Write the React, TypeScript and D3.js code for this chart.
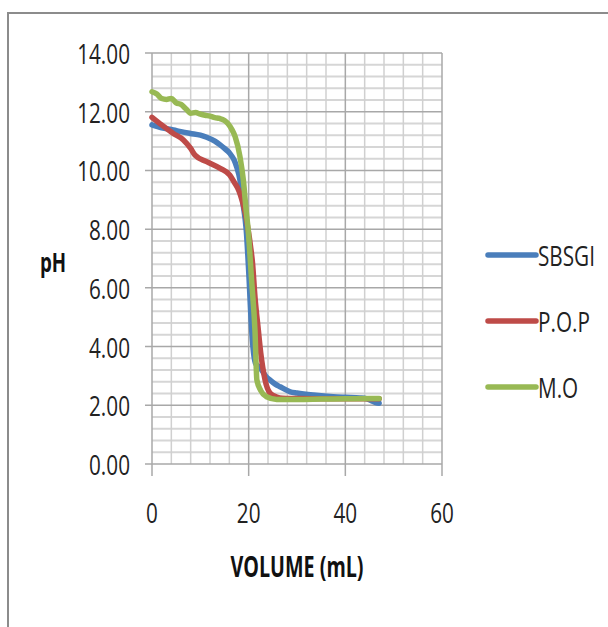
import React from "react";
import * as d3 from "d3";

const sbsgiX = [0, 2, 4.4, 6, 7.9, 10, 11.3, 13, 14.1, 15, 16.1, 17, 17.5, 18.2, 18.8, 19.5, 20.1, 20.5, 21, 21.5, 22, 22.5, 23.5, 24.5, 25.5, 26.5, 28.6, 30, 33.4, 37.5, 40, 43, 44.5, 45.5, 46.3, 47];
const sbsgiY = [11.55, 11.45, 11.38, 11.32, 11.26, 11.2, 11.13, 11.0, 10.87, 10.75, 10.58, 10.35, 10.13, 9.67, 8.9, 7.97, 6.27, 4.9, 3.8, 3.4, 3.33, 3.25, 3.0, 2.85, 2.72, 2.63, 2.46, 2.42, 2.35, 2.29, 2.27, 2.25, 2.22, 2.15, 2.09, 2.07];

const popX = [0, 2, 4.4, 6.5, 8, 8.9, 11.3, 14.1, 16.1, 17, 18, 18.6, 19.3, 19.9, 20.4, 20.8, 21.3, 22, 22.5, 23.4, 24.4, 25.8, 27, 30, 35, 40, 45, 47];
const popY = [11.81, 11.55, 11.26, 11.04, 10.75, 10.52, 10.3, 10.07, 9.84, 9.6, 9.3, 9.0, 8.54, 7.97, 7.4, 6.84, 5.7, 4.56, 3.78, 2.86, 2.42, 2.28, 2.24, 2.23, 2.22, 2.22, 2.22, 2.22];

const moX = [0, 1, 2, 3, 4, 5, 6, 7, 8, 9, 10, 11, 12, 13, 14, 15, 15.7, 16.5, 17.2, 18.2, 18.9, 19.5, 19.9, 20.6, 21.3, 21.7, 22.5, 23.7, 25.8, 30, 35, 40, 45, 47];
const moY = [12.68, 12.6, 12.45, 12.42, 12.45, 12.3, 12.25, 12.1, 11.95, 11.97, 11.92, 11.88, 11.85, 11.8, 11.77, 11.7, 11.6, 11.4, 11.15, 10.47, 9.67, 8.6, 7.97, 6.27, 4.56, 2.86, 2.5, 2.29, 2.2, 2.2, 2.21, 2.22, 2.23, 2.23];

const seriesNames = ["SBSGI", "P.O.P", "M.O"];
const seriesColors = ["#4a7ebb", "#be4b48", "#98b954"];
const yTicks = [0, 2, 4, 6, 8, 10, 12, 14];
const xTicks = [0, 20, 40, 60];

const FONT = "'Open Sans', 'Noto Sans', sans-serif";

function T(props: {
  x: number;
  y: number;
  children: React.ReactNode;
  anchor?: "start" | "middle" | "end";
  size?: number;
  bold?: boolean;
  sx?: number;
}) {
  const { x, y, children, anchor = "start", size = 28, bold = false, sx = 0.74 } = props;
  return (
    <text
      transform={`translate(${x},${y}) scale(${sx},1)`}
      textAnchor={anchor}
      fontFamily={FONT}
      fontSize={size}
      fontWeight={bold ? "bold" : "normal"}
      fill={bold ? "#111" : "#222"}
    >
      {children}
    </text>
  );
}

export default function App() {
  const x = d3.scaleLinear().domain([0, 60]).range([152, 442]);
  const y = d3.scaleLinear().domain([0, 14]).range([464, 53]);

  const series = [
    { xs: sbsgiX, ys: sbsgiY },
    { xs: popX, ys: popY },
    { xs: moX, ys: moY },
  ];

  const line = d3
    .line<[number, number]>()
    .x((d) => x(d[0]))
    .y((d) => y(d[1]))
    .curve(d3.curveMonotoneX);

  const minorX = d3.range(0, 60.01, 4).filter((v) => v % 20 !== 0);
  const minorY = d3
    .range(0, 14.01, 0.4)
    .map((v) => Math.round(v * 10) / 10)
    .filter((v) => Math.abs(v / 2 - Math.round(v / 2)) > 1e-6);

  return (
    <svg width={608} height={627} style={{ position: "absolute", left: 0, top: 0, background: "#fff" }}>
      <rect x={0} y={0} width={608} height={627} fill="#fff" />
      <rect x={8} y={13} width={640} height={660} fill="none" stroke="#8c8c8c" strokeWidth={2} />
      {minorY.map((v) => (
        <line key={"my" + v} x1={x(0)} x2={x(60)} y1={y(v)} y2={y(v)} stroke="#d6d6d6" strokeWidth={2} />
      ))}
      {minorX.map((v) => (
        <line key={"mx" + v} x1={x(v)} x2={x(v)} y1={y(0)} y2={y(14)} stroke="#d0d0d0" strokeWidth={1.5} />
      ))}
      {yTicks.map((v) => (
        <line key={"gy" + v} x1={x(0) - 7} x2={x(60)} y1={y(v)} y2={y(v)} stroke="#a8a8a8" strokeWidth={1.5} />
      ))}
      {xTicks.map((v) => (
        <line key={"gx" + v} x1={x(v)} x2={x(v)} y1={y(0) + 12} y2={y(14)} stroke="#a8a8a8" strokeWidth={1.5} />
      ))}
      {series.map((s, i) => (
        <path
          key={seriesNames[i]}
          d={line(s.xs.map((v, j) => [v, s.ys[j]] as [number, number])) || ""}
          fill="none"
          stroke={seriesColors[i]}
          strokeWidth={5.5}
          strokeLinejoin="round"
          strokeLinecap="round"
        />
      ))}
      {yTicks.map((v) => (
        <T key={"ty" + v} x={130} y={y(v) + 11} anchor="end">
          {v.toFixed(2)}
        </T>
      ))}
      {xTicks.map((v) => (
        <T key={"tx" + v} x={x(v)} y={523} anchor="middle">
          {v}
        </T>
      ))}
      <T x={53} y={272} anchor="middle" bold size={26} sx={0.72}>
        pH
      </T>
      <T x={297} y={577} anchor="middle" bold size={29} sx={0.68}>
        VOLUME (mL)
      </T>
      {seriesNames.map((n, i) => (
        <g key={"lg" + n}>
          <line x1={488} x2={536} y1={255 + i * 66} y2={255 + i * 66} stroke={seriesColors[i]} strokeWidth={5.5} strokeLinecap="round" />
          <T x={538} y={266 + i * 66}>
            {n}
          </T>
        </g>
      ))}
    </svg>
  );
}
